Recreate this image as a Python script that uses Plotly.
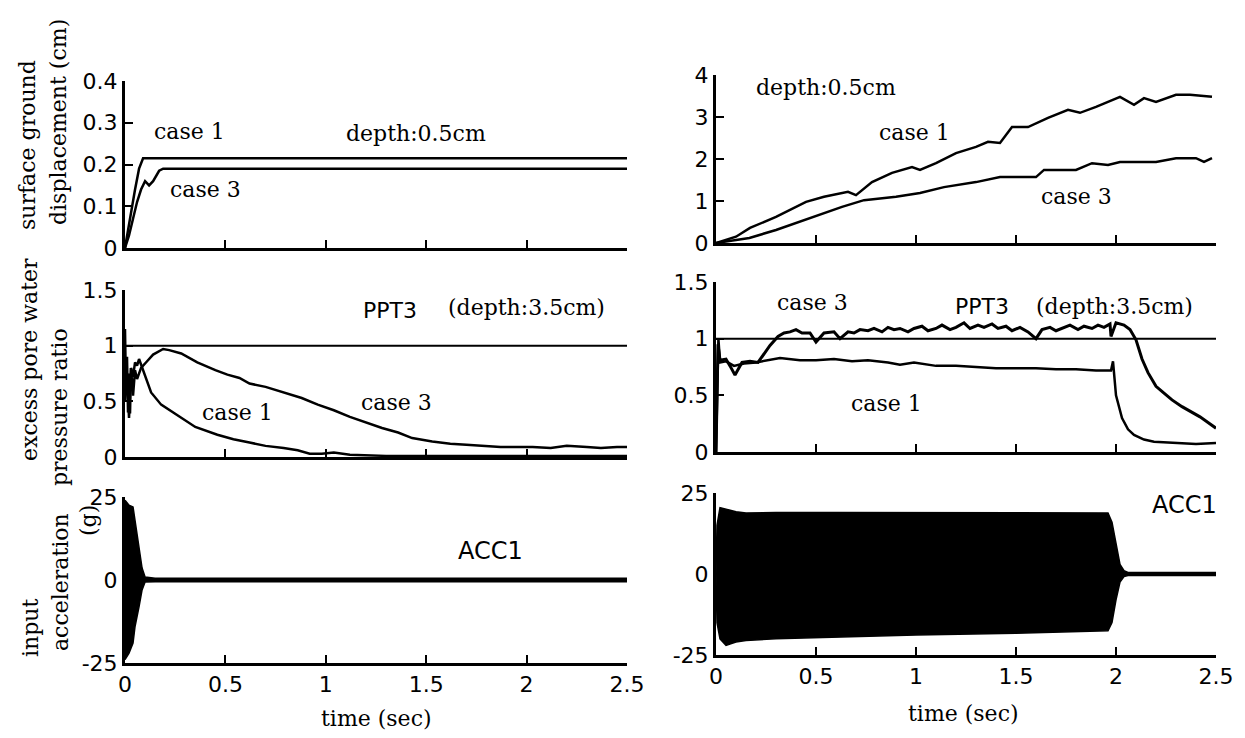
import plotly.graph_objects as go

# ---- data ----
# top left: surface ground displacement (cm)
t_disp_l1 = [0, 0.01, 0.03, 0.05, 0.07, 0.09, 2.5]
disp_l1 = [0, 0.03, 0.09, 0.14, 0.19, 0.215, 0.215]
t_disp_l3 = [0, 0.02, 0.04, 0.06, 0.08, 0.10, 0.12, 0.14, 0.17, 0.19, 2.5]
disp_l3 = [0, 0.03, 0.07, 0.11, 0.14, 0.16, 0.15, 0.16, 0.185, 0.19, 0.19]

# top right
t_disp_r1 = [0, 0.1, 0.17, 0.30, 0.45, 0.54, 0.66, 0.70, 0.78, 0.88, 0.98, 1.02, 1.10, 1.20, 1.30,
             1.36, 1.42, 1.48, 1.56, 1.66, 1.76, 1.82, 1.90, 2.02, 2.09, 2.14, 2.20, 2.30, 2.37, 2.48]
disp_r1 = [0, 0.15, 0.36, 0.62, 0.98, 1.10, 1.22, 1.14, 1.45, 1.67, 1.81, 1.74, 1.90, 2.14, 2.29,
           2.41, 2.38, 2.76, 2.76, 2.98, 3.17, 3.10, 3.24, 3.48, 3.29, 3.45, 3.36, 3.53, 3.53, 3.48]
t_disp_r3 = [0, 0.167, 0.30, 0.47, 0.63, 0.74, 0.90, 1.02, 1.14, 1.30, 1.42, 1.60, 1.64, 1.80,
             1.88, 1.96, 2.02, 2.20, 2.30, 2.40, 2.44, 2.48]
disp_r3 = [0, 0.12, 0.31, 0.60, 0.86, 1.02, 1.10, 1.19, 1.33, 1.45, 1.57, 1.57, 1.74, 1.74,
           1.90, 1.86, 1.93, 1.93, 2.02, 2.02, 1.93, 2.02]

# middle left: excess pore water pressure ratio
t_ppt_l1 = [0, 0.005, 0.01, 0.015, 0.02, 0.025, 0.03, 0.04, 0.05, 0.06, 0.07, 0.1, 0.13, 0.18,
            0.27, 0.35, 0.46, 0.54, 0.62, 0.70, 0.79, 0.86, 0.92, 0.98, 1.04, 1.12, 1.3, 1.6,
            2.0, 2.5]
ppt_l1 = [1.15, 0.6, 0.9, 0.4, 0.75, 0.39, 0.8, 0.72, 0.85, 0.82, 0.88, 0.72, 0.58, 0.47,
          0.36, 0.27, 0.20, 0.16, 0.13, 0.10, 0.08, 0.06, 0.03, 0.03, 0.04, 0.02, 0.01, 0.01,
          0.01, 0.01]
t_ppt_l3 = [0, 0.01, 0.02, 0.03, 0.04, 0.05, 0.06, 0.08, 0.11, 0.14, 0.19, 0.22, 0.28, 0.36,
            0.45, 0.51, 0.57, 0.62, 0.70, 0.79, 0.88, 0.96, 1.04, 1.12, 1.2, 1.28, 1.36, 1.43,
            1.53, 1.62, 1.70, 1.8, 1.87, 1.95, 2.03, 2.12, 2.2, 2.3, 2.37, 2.45, 2.5]
ppt_l3 = [0.5, 0.75, 0.35, 0.8, 0.55, 0.78, 0.7, 0.8, 0.86, 0.92, 0.97, 0.96, 0.93, 0.85,
          0.78, 0.74, 0.71, 0.66, 0.63, 0.58, 0.53, 0.47, 0.42, 0.36, 0.31, 0.26, 0.22, 0.17,
          0.14, 0.12, 0.11, 0.10, 0.09, 0.09, 0.09, 0.08, 0.10, 0.09, 0.08, 0.09, 0.09]

# middle right
t_ppt_r1 = [0, 0.005, 0.012, 0.02, 0.05, 0.09, 0.14, 0.2, 0.26, 0.32, 0.42, 0.5, 0.59, 0.68,
            0.76, 0.86, 0.92, 0.99, 1.1, 1.2, 1.3, 1.4, 1.5, 1.6, 1.7, 1.8, 1.9, 1.96, 1.975,
            1.985, 2.0, 2.03, 2.06, 2.09, 2.14, 2.19, 2.29, 2.4, 2.5]
ppt_r1 = [0, 0.5, 1.0, 0.79, 0.8, 0.76, 0.78, 0.79, 0.81, 0.83, 0.81, 0.81, 0.82, 0.8,
          0.81, 0.79, 0.77, 0.79, 0.76, 0.76, 0.75, 0.74, 0.74, 0.74, 0.73, 0.73, 0.72, 0.72, 0.72,
          0.8, 0.5, 0.3, 0.2, 0.15, 0.11, 0.09, 0.08, 0.07, 0.08]
t_ppt_r3 = [0, 0.01, 0.02, 0.05, 0.07, 0.095, 0.13, 0.17, 0.21, 0.24, 0.27, 0.31, 0.34, 0.37,
            0.40, 0.43, 0.47, 0.50, 0.54, 0.59, 0.62, 0.66, 0.69, 0.72, 0.76, 0.79, 0.83, 0.86,
            0.89, 0.92, 0.96, 0.99, 1.03, 1.06, 1.1, 1.13, 1.17, 1.2, 1.24, 1.27, 1.31, 1.34,
            1.38, 1.41, 1.45, 1.48, 1.52, 1.56, 1.6, 1.63, 1.67, 1.7, 1.74, 1.77, 1.81, 1.84,
            1.88, 1.91, 1.94, 1.97, 1.975, 2.0, 2.04, 2.07, 2.1, 2.13, 2.16, 2.2, 2.24, 2.28,
            2.33, 2.38, 2.42, 2.46, 2.5]
ppt_r3 = [0, 0.95, 0.81, 0.82, 0.76, 0.68, 0.79, 0.80, 0.79, 0.87, 0.94, 1.02, 1.05, 1.06,
          1.08, 1.05, 1.05, 0.97, 1.05, 1.06, 1.0, 1.06, 1.05, 1.08, 1.07, 1.09, 1.06, 1.1,
          1.08, 1.09, 1.06, 1.09, 1.11, 1.07, 1.09, 1.12, 1.08, 1.1, 1.14, 1.09, 1.12, 1.1,
          1.13, 1.09, 1.11, 1.07, 1.1, 1.06, 1.0, 1.08, 1.1, 1.07, 1.1, 1.12, 1.08, 1.11,
          1.09, 1.12, 1.1, 1.13, 1.02, 1.14, 1.12, 1.08, 0.99, 0.82, 0.7, 0.58, 0.52, 0.46,
          0.40, 0.35, 0.31, 0.26, 0.21]

# bottom: input acceleration envelope (g)
t_acc_l = [0, 0.02, 0.04, 0.05, 0.07, 0.085, 0.1, 0.15, 2.5]
acc_l_up = [24, 22.5, 22, 18, 10, 3.6, 0.9, 0.5, 0.5]
acc_l_lo = [-24, -22, -19, -14, -8, -3, -0.6, -0.5, -0.5]
t_acc_r = [0, 0.005, 0.02, 0.05, 0.1, 0.15, 0.3, 0.6, 1.0, 1.5, 1.96, 1.98, 2.0, 2.02, 2.04, 2.06, 2.5]
acc_r_up = [0, 15, 20.5, 20, 19.2, 18.8, 19, 19, 19, 19, 18.8, 16, 10, 3, 1, 0.5, 0.5]
acc_r_lo = [0, -15, -20, -22, -21, -20.5, -20, -19.5, -18.8, -18.3, -17.5, -15, -8, -2.5, -0.8, -0.5, -0.5]

# page body has an 8px margin, so the figure is a bit smaller and offset
OFF = 8
W, H = 1245 - 2 * OFF, 738 - 2 * OFF
SERIF = "DejaVu Serif"
SANS = "DejaVu Sans"


def px(x):
    return (x - OFF) / W


def py(y):
    return 1 - (y - OFF) / H


fig = go.Figure()

def line(x, y, ax, w=2.5):
    fig.add_trace(go.Scatter(x=x, y=y, mode="lines", line=dict(color="black", width=w),
                             xaxis="x" + ax, yaxis="y" + ax, showlegend=False))

line(t_disp_l1, disp_l1, "")
line(t_disp_l3, disp_l3, "")
line(t_ppt_l1, ppt_l1, "2")
line(t_ppt_l3, ppt_l3, "2")
line([0, 2.5], [1, 1], "2", 2)
line(t_disp_r1, disp_r1, "4")
line(t_disp_r3, disp_r3, "4")
line(t_ppt_r1, ppt_r1, "5")
line(t_ppt_r3, ppt_r3, "5", 3)
line([0, 2.5], [1, 1], "5", 2)

for t, up, lo, ax in [(t_acc_l, acc_l_up, acc_l_lo, "3"), (t_acc_r, acc_r_up, acc_r_lo, "6")]:
    fig.add_trace(go.Scatter(x=t, y=lo, mode="lines", line=dict(color="black", width=1.5),
                             xaxis="x" + ax, yaxis="y" + ax, showlegend=False))
    fig.add_trace(go.Scatter(x=t, y=up, mode="lines", line=dict(color="black", width=1.5),
                             fill="tonexty", fillcolor="black",
                             xaxis="x" + ax, yaxis="y" + ax, showlegend=False))

axis_common = dict(showline=True, linecolor="black", linewidth=3, ticks="inside", ticklen=8,
                   tickwidth=2, tickcolor="black", showgrid=False, zeroline=False,
                   automargin=False,
                   tickfont=dict(family=SANS, size=22, color="black"))

xt = [0, 0.5, 1, 1.5, 2, 2.5]
xl = ["0", "0.5", "1", "1.5", "2", "2.5"]

left_x = [px(125), px(627)]
right_x = [px(716), px(1216)]
panels = {
    "": (left_x, [py(248), py(81)], [0, 0.4], [0, 0.1, 0.2, 0.3, 0.4], ["0", "0.1", "0.2", "0.3", "0.4"], False),
    "2": (left_x, [py(457), py(290)], [0, 1.5], [0, 0.5, 1, 1.5], ["0", "0.5", "1", "1.5"], False),
    "3": (left_x, [py(663), py(497)], [-25, 25], [-25, 0, 25], ["-25", "0", "25"], True),
    "4": (right_x, [py(243), py(75)], [0, 4], [0, 1, 2, 3, 4], ["0", "1", "2", "3", "4"], False),
    "5": (right_x, [py(452), py(282)], [0, 1.5], [0, 0.5, 1, 1.5], ["0", "0.5", "1", "1.5"], False),
    "6": (right_x, [py(655), py(493)], [-25, 25], [-25, 0, 25], ["-25", "0", "25"], True),
}

layout_axes = {}
for k, (xd, yd, yr, yt, yl, lab) in panels.items():
    layout_axes["xaxis" + k] = dict(axis_common, domain=xd, range=[0, 2.5], anchor="y" + k,
                                    tickvals=xt, ticktext=xl, showticklabels=lab)
    layout_axes["yaxis" + k] = dict(axis_common, domain=yd, range=yr, anchor="x" + k,
                                    tickvals=yt, ticktext=yl)

ann = []

def txt(x, y, s, ref, font=SERIF, size=22):
    ann.append(dict(x=x, y=y, text=s, xref="x" + ref, yref="y" + ref, showarrow=False,
                    xanchor="center", yanchor="middle",
                    font=dict(family=font, size=size, color="black")))

txt(0.32, 0.278, "case 1", "")
txt(0.40, 0.139, "case 3", "")
txt(1.45, 0.275, "depth:0.5cm", "")
txt(1.32, 1.32, "PPT3", "2", SANS)
txt(2.0, 1.34, "(depth:3.5cm)", "2")
txt(0.56, 0.40, "case 1", "2")
txt(1.35, 0.49, "case 3", "2")
txt(1.82, 8.7, "ACC1", "3", SANS, 24)
txt(0.55, 3.71, "depth:0.5cm", "4")
txt(0.99, 2.62, "case 1", "4")
txt(1.80, 1.10, "case 3", "4")
txt(0.48, 1.32, "case 3", "5")
txt(1.33, 1.28, "PPT3", "5", SANS)
txt(1.99, 1.28, "(depth:3.5cm)", "5")
txt(0.85, 0.43, "case 1", "5")
txt(2.34, 21.3, "ACC1", "6", SANS, 24)

# axis titles
def ptxt(x, y, s, angle=0):
    ann.append(dict(x=px(x), y=py(y), text=s, xref="paper", yref="paper", showarrow=False,
                    xanchor="center", yanchor="middle", textangle=angle,
                    font=dict(family=SERIF, size=22, color="black")))

ptxt(28, 145, "surface ground", -90)
ptxt(58, 122, "displacement (cm)", -90)
ptxt(29, 360, "excess pore water", -90)
ptxt(59, 407, "pressure ratio", -90)
ptxt(30, 628, "input", -90)
ptxt(60, 582, "acceleration", -90)
ptxt(88, 521, "(g)", -90)
ptxt(376, 718, "time (sec)")
ptxt(963, 713, "time (sec)")

fig.update_layout(width=W, height=H, margin=dict(l=0, r=0, t=0, b=0, autoexpand=False),
                  paper_bgcolor="white", plot_bgcolor="white", annotations=ann,
                  **layout_axes)

fig.write_html("out.html")
